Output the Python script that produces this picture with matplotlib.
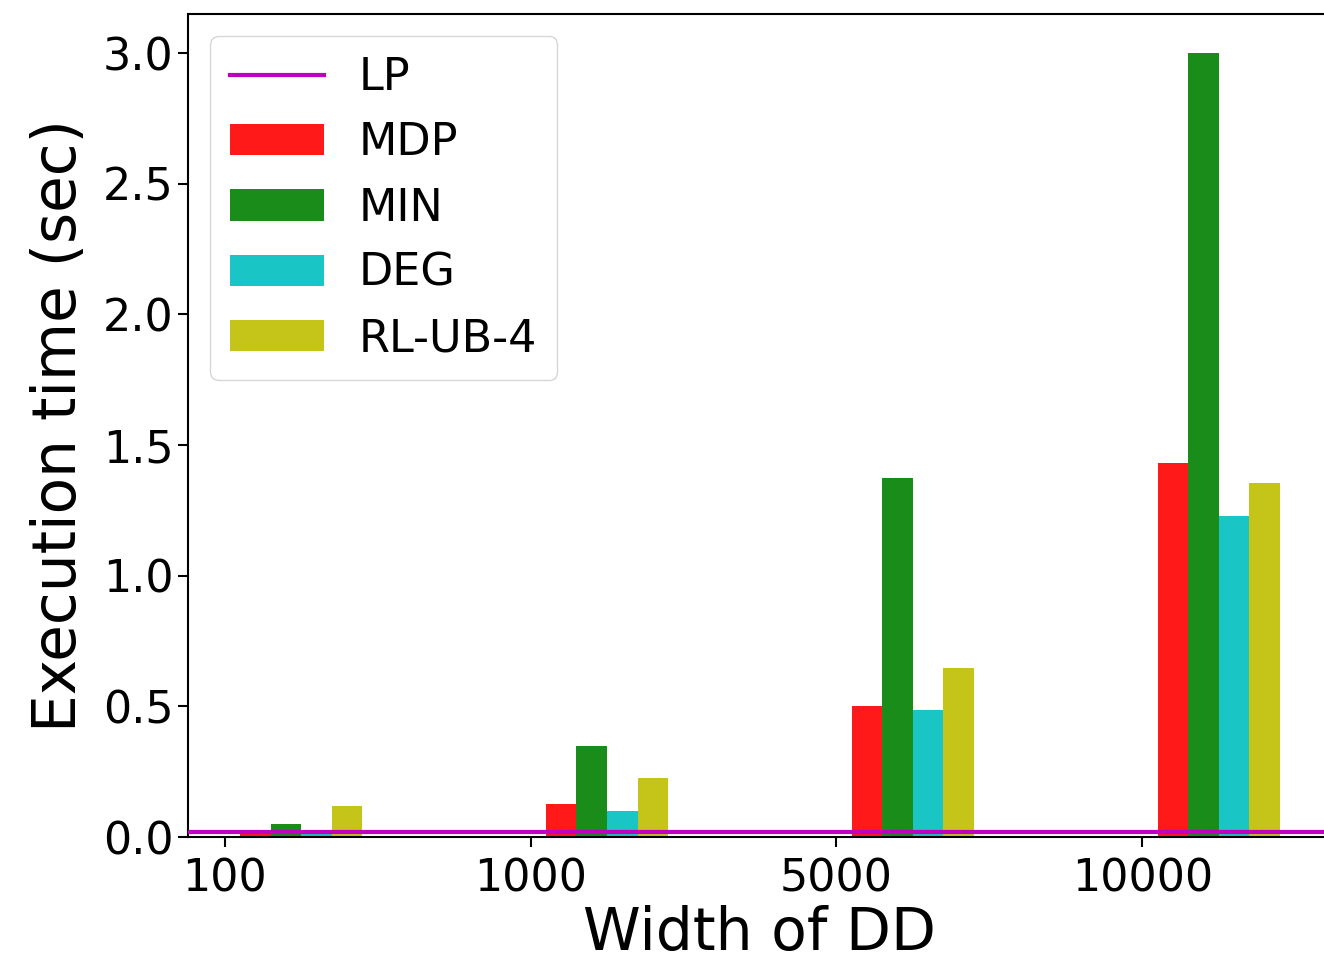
import numpy as np
import matplotlib
matplotlib.use('Agg')
import matplotlib.pyplot as plt

widths = ['100', '1000', '5000', '10000']
lp_time = 0.02
mdp_time = [0.01, 0.125, 0.50, 1.43]
min_time = [0.05, 0.35, 1.375, 3.0]
deg_time = [0.01, 0.10, 0.485, 1.23]
rl_time = [0.12, 0.225, 0.645, 1.355]

x = np.arange(len(widths))
bw = 0.1

fig = plt.figure(figsize=(13.24, 9.65), dpi=100)
ax = fig.add_axes([0.142, 0.1326, 0.864, 0.853])

ax.axhline(lp_time, color='m', linewidth=3, label='LP', zorder=3)
ax.bar(x + 1 * bw, mdp_time, bw, color='r', alpha=0.9, label='MDP')
ax.bar(x + 2 * bw, min_time, bw, color='g', alpha=0.9, label='MIN')
ax.bar(x + 3 * bw, deg_time, bw, color='c', alpha=0.9, label='DEG')
ax.bar(x + 4 * bw, rl_time, bw, color='y', alpha=0.9, label='RL-UB-4')

ax.set_xticks(x)
ax.set_xticklabels(widths)
ax.set_yticks(np.arange(0, 3.01, 0.5))
ax.tick_params(labelsize=32, length=7, width=1.5)
ax.tick_params(axis='x', pad=8)
for s in ax.spines.values():
    s.set_linewidth(1.5)

ax.set_xlabel('Width of DD', fontsize=42, labelpad=3)
ax.set_ylabel('Execution time (sec)', fontsize=43, labelpad=10)
ax.legend(loc='upper left', fontsize=32, handlelength=2.1, borderpad=0.45,
          labelspacing=0.5, handletextpad=0.8)

fig.savefig('out.png', dpi=100)
